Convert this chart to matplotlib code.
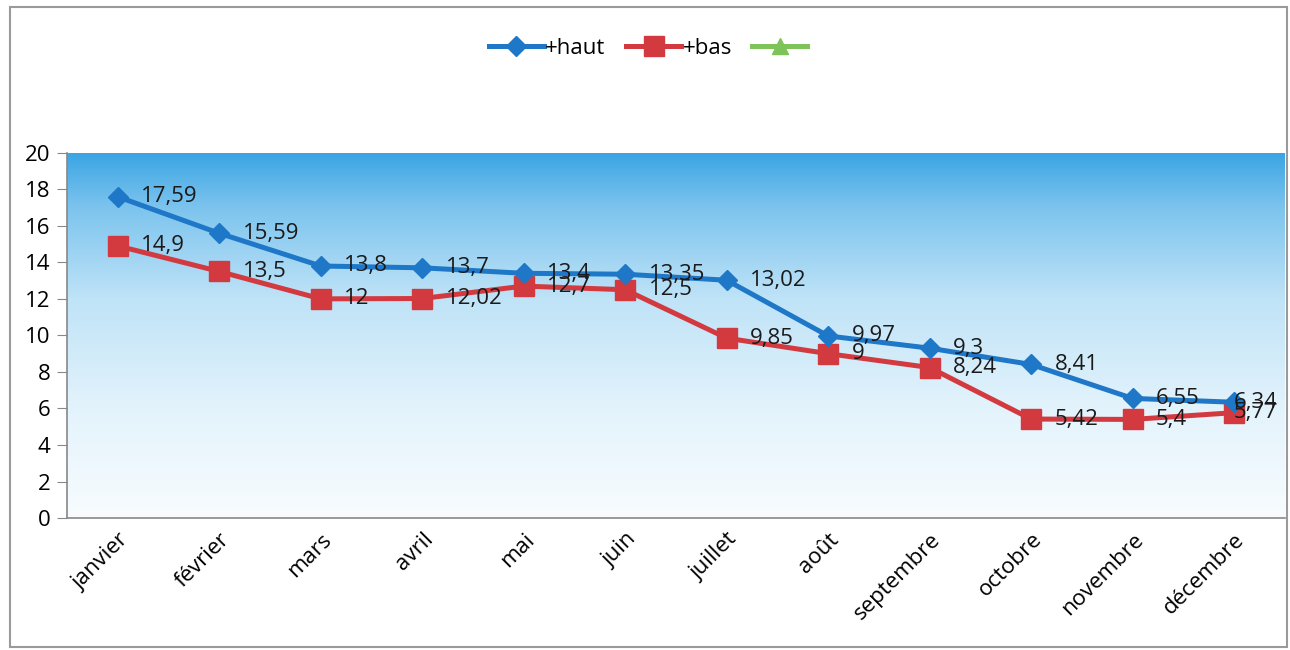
import numpy as np
import matplotlib
matplotlib.use("Agg")
import matplotlib.pyplot as plt
from matplotlib.colors import LinearSegmentedColormap
from matplotlib.patches import Rectangle

months = ["janvier", "février", "mars", "avril", "mai", "juin", "juillet",
          "août", "septembre", "octobre", "novembre", "décembre"]
haut = [17.59, 15.59, 13.8, 13.7, 13.4, 13.35, 13.02, 9.97, 9.3, 8.41, 6.55, 6.34]
bas = [14.9, 13.5, 12, 12.02, 12.7, 12.5, 9.85, 9, 8.24, 5.42, 5.4, 5.77]
haut_labels = ["17,59", "15,59", "13,8", "13,7", "13,4", "13,35", "13,02",
               "9,97", "9,3", "8,41", "6,55", "6,34"]
bas_labels = ["14,9", "13,5", "12", "12,02", "12,7", "12,5", "9,85",
              "9", "8,24", "5,42", "5,4", "5,77"]
yticks = [0, 2, 4, 6, 8, 10, 12, 14, 16, 18, 20]

plt.rcParams['font.family'] = ['Open Sans', 'DejaVu Sans']

fig = plt.figure(figsize=(12.9, 6.5), dpi=100)
fig.patch.set_facecolor('white')
fig.add_artist(Rectangle((0.008, 0.005), 0.99, 0.985, transform=fig.transFigure,
                         fill=False, edgecolor='#9a9a9a', linewidth=1.5))

ax = fig.add_axes([0.052, 0.203, 0.944, 0.562])
x = np.arange(len(months))

# gradient background
cmap = LinearSegmentedColormap.from_list(
    'bg', [(0.0, '#f8fcfe'), (0.3, '#e3f3fc'), (0.6, '#bfe3f7'),
           (0.85, '#7cc4ee'), (1.0, '#3aa5e3')])
grad = np.linspace(0, 1, 256).reshape(-1, 1)
ax.imshow(grad, aspect='auto', cmap=cmap, origin='lower',
          extent=[0, 1, 0, 1], transform=ax.transAxes, zorder=0)

ax.plot(x, haut, color='#1f77c8', linewidth=3.6, marker='D', markersize=10,
        label='+haut', zorder=3)
ax.plot(x, bas, color='#d23a40', linewidth=3.6, marker='s', markersize=14,
        label='+bas', zorder=2)
ax.plot([], [], color='#7dc35a', linewidth=3.6, marker='^', markersize=11,
        label=' ')

n = len(months)
for i, (v, t) in enumerate(zip(haut, haut_labels)):
    off = 0.23 if i < n - 1 else 0.0
    ax.text(x[i] + off, v, t, fontsize=16, ha='left', va='center',
            color='#1a1a1a', zorder=4)
for i, (v, t) in enumerate(zip(bas, bas_labels)):
    off = 0.23 if i < n - 1 else 0.0
    ax.text(x[i] + off, v, t, fontsize=16, ha='left', va='center',
            color='#1a1a1a', zorder=4)

ax.set_xlim(-0.5, n - 0.5)
ax.set_ylim(0, 20)
ax.set_yticks(yticks)
ax.set_yticklabels([str(t) for t in yticks], fontsize=16)
ax.set_xticks(x)
ax.set_xticklabels(months, rotation=45, ha='right', rotation_mode='anchor',
                   fontsize=16)
ax.tick_params(axis='x', length=0, pad=8)
ax.tick_params(axis='y', length=7, color='#888888', pad=5)

for s in ['top', 'right']:
    ax.spines[s].set_visible(False)
for s in ['left', 'bottom']:
    ax.spines[s].set_color('#888888')
    ax.spines[s].set_linewidth(1.2)

fig.legend(loc='center', bbox_to_anchor=(0.505, 0.925), ncol=3, frameon=False,
           fontsize=16, handlelength=2.5, handletextpad=0.05, columnspacing=0.9)

fig.savefig('out.png', dpi=100)
